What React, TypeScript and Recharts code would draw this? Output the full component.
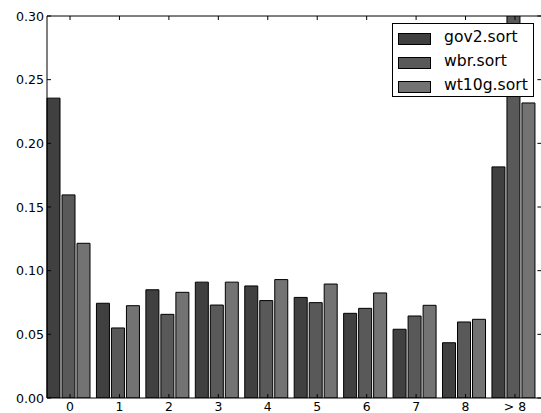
import { Bar, BarChart, Legend, ReferenceLine, XAxis, YAxis } from 'recharts'

const categories = ['0', '1', '2', '3', '4', '5', '6', '7', '8', '> 8']
const gov2 = [0.2355, 0.0744, 0.085, 0.091, 0.088, 0.079, 0.0665, 0.054, 0.0434, 0.1815]
const wbr = [0.1595, 0.055, 0.0657, 0.073, 0.0765, 0.0749, 0.0704, 0.0644, 0.0597, 0.315]
const wt10g = [0.1215, 0.0725, 0.083, 0.091, 0.093, 0.0895, 0.0825, 0.0728, 0.0618, 0.2317]
const yTicks = [0, 0.05, 0.1, 0.15, 0.2, 0.25, 0.3]

const series = [
  { key: 'gov2', name: 'gov2.sort', color: '#404040' },
  { key: 'wbr', name: 'wbr.sort', color: '#595959' },
  { key: 'wt10g', name: 'wt10g.sort', color: '#737373' },
]

const data = categories.map((c, i) => ({
  name: c,
  gov2: gov2[i],
  wbr: wbr[i],
  wt10g: wt10g[i],
}))

const LEFT = 47
const TOP = 16
const BOTTOM = 398
const RIGHT = 541.4
const FONT = 'DejaVu Sans, sans-serif'

const YTick = (props: any) => {
  const { x, y, payload } = props
  return (
    <g>
      <text x={x} y={y} dy={4.5} textAnchor='end' fontFamily={FONT} fontSize={12.6} fill='#000'>
        {payload.value.toFixed(2)}
      </text>
      <line x1={LEFT} x2={LEFT + 4} y1={y} y2={y} stroke='#000' />
      <line x1={RIGHT - 4} x2={RIGHT} y1={y} y2={y} stroke='#000' />
    </g>
  )
}

const XTick = (props: any) => {
  const { x, payload } = props
  const cx = x + 1.5
  return (
    <g>
      <text x={cx} y={411} textAnchor='middle' fontFamily={FONT} fontSize={12.4} fill='#000'>
        {payload.value}
      </text>
      <line x1={cx} x2={cx} y1={BOTTOM} y2={BOTTOM - 4} stroke='#000' />
      <line x1={cx} x2={cx} y1={TOP} y2={TOP + 4} stroke='#000' />
    </g>
  )
}

const renderLegend = () => (
  <div
    style={{
      border: '1px solid #000',
      background: '#fff',
      width: 140,
      height: 72,
      boxSizing: 'content-box',
      padding: 0,
      fontFamily: FONT,
      fontSize: 15.6,
    }}
  >
    {series.map((s, i) => (
      <div key={s.key} style={{ position: 'relative', height: 24, marginTop: i === 0 ? 2 : 0 }}>
        <div
          style={{
            position: 'absolute',
            left: 5,
            top: 7,
            width: 31,
            height: 10,
            background: s.color,
            border: '1px solid #000',
          }}
        />
        <span style={{ position: 'absolute', left: 51, top: 1, lineHeight: '20px', whiteSpace: 'nowrap' }}>
          {s.name}
        </span>
      </div>
    ))}
  </div>
)

export default function App() {
  return (
    <div style={{ position: 'absolute', left: 0, top: 0, width: 541, height: 413, overflow: 'hidden', background: '#fff' }}>
      <BarChart
        width={546}
        height={413}
        data={data}
        margin={{ top: TOP, right: 546 - RIGHT, bottom: 0, left: 0 }}
        barGap={2}
        barCategoryGap={3.2}
      >
        <XAxis
          dataKey='name'
          height={15}
          padding={{ left: -3.2, right: 3.2 }}
          tickSize={0}
          tickMargin={0}
          tick={XTick}
          axisLine={{ stroke: '#000' }}
          interval={0}
        />
        <YAxis
          width={LEFT}
          domain={[0, 0.3]}
          ticks={yTicks}
          allowDataOverflow
          tickSize={0}
          tickMargin={3}
          tick={YTick}
          axisLine={{ stroke: '#000' }}
        />
        <ReferenceLine y={0.3} stroke='#000' />
        {series.map((s) => (
          <Bar
            key={s.key}
            dataKey={s.key}
            name={s.name}
            fill={s.color}
            stroke='#000'
            strokeWidth={1}
            isAnimationActive={false}
          />
        ))}
        <Legend
          content={renderLegend}
          layout='horizontal'
          verticalAlign='middle'
          align='center'
          wrapperStyle={{ left: 392, top: 23, width: 142, height: 74 }}
        />
      </BarChart>
    </div>
  )
}
